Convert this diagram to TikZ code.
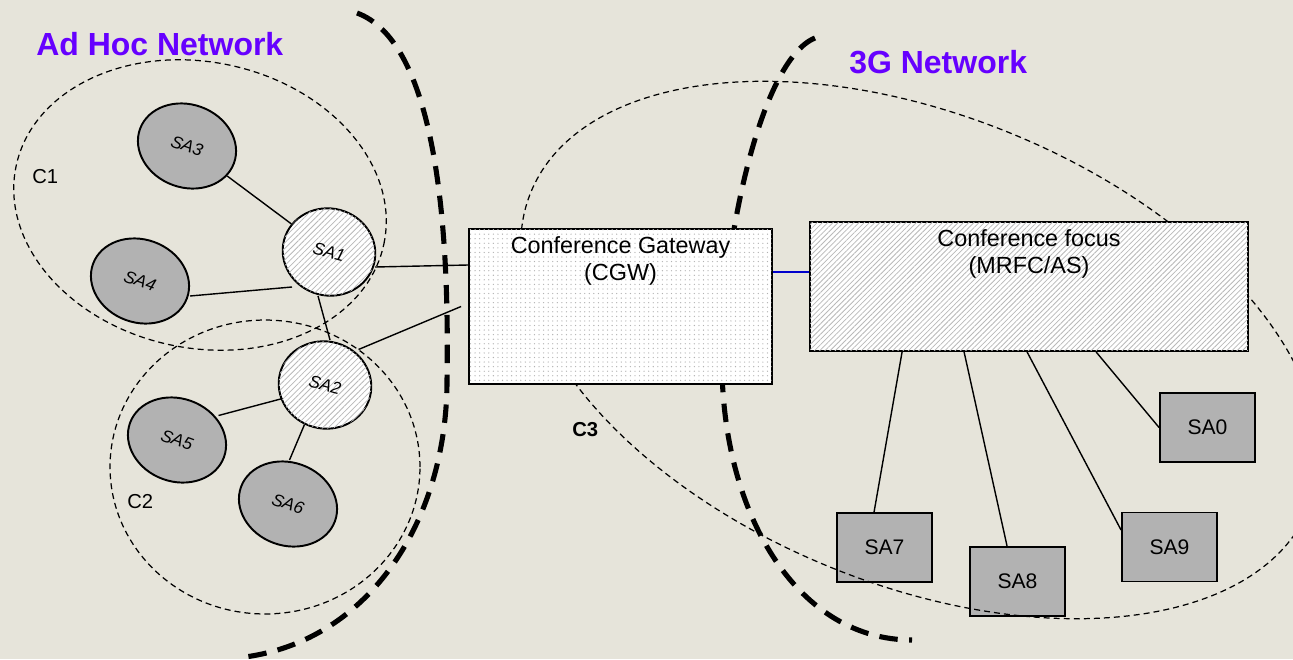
\documentclass[tikz,border=0pt]{standalone}
\usepackage{fontspec}
\setmainfont{Liberation Sans}
\usetikzlibrary{calc,patterns.meta,shapes.geometric}
\definecolor{paper}{RGB}{230,228,218}
\definecolor{netviolet}{RGB}{102,0,255}
\definecolor{agentgray}{RGB}{178,178,178}
\definecolor{linkblue}{RGB}{0,0,204}

\begin{document}
\begin{tikzpicture}[x=0.02cm,y=-0.02cm,
  cluster/.style={draw, line width=0.7pt, dash pattern=on 3.4pt off 2.3pt},
  boundary/.style={line width=2.9pt, dash pattern=on 10.5pt off 6.5pt},
  link/.style={line width=0.8pt},
  peer/.style={ellipse, draw, line width=1.1pt, fill=agentgray,
    minimum width=2.0cm, minimum height=1.66cm, inner sep=0pt,
    font=\fontsize{9.8}{11}\selectfont\itshape, rotate=-20},
  head/.style={ellipse, draw, line width=1.1pt, fill=white,
    postaction={pattern={Lines[angle=45,distance=2.3pt,line width=0.45pt]}, pattern color=gray!55},
    minimum width=1.86cm, minimum height=1.74cm, inner sep=0pt,
    font=\fontsize{9.8}{11}\selectfont\itshape, rotate=-15},
  agent/.style={rectangle, draw, line width=1.1pt, fill=agentgray,
    minimum width=1.9cm, minimum height=1.38cm, inner sep=0pt,
    font=\fontsize{12}{14}\selectfont},
  boxtext/.style={anchor=north, align=center, inner sep=0pt, yshift=-4.5pt,
    font=\fontsize{13.3}{15.5}\selectfont},
  netname/.style={anchor=base west, inner sep=0pt, text=netviolet,
    font=\fontsize{18.2}{20}\selectfont\bfseries},
  clname/.style={anchor=base west, inner sep=0pt, font=\fontsize{11.5}{13}\selectfont}
]
\useasboundingbox (0,0) rectangle (1293,659);
\fill[paper] (0,0) rectangle (1293,659);

% cluster outlines of the ad hoc part
\draw[cluster, rotate around={-12:(200,205)}] (200,205) ellipse [x radius=3.76cm, y radius=2.86cm];
\draw[cluster] (265,467) ellipse [x radius=3.1cm, y radius=2.94cm];

% network borders
\draw[boundary] (357,13) .. controls (430,40) and (450,200) .. (447,380)
                .. controls (447,520) and (370,640) .. (245,657);
\draw[boundary] (815,38) .. controls (760,60) and (720,250) .. (722,370)
                .. controls (725,520) and (800,640) .. (912,640);

% ad hoc agents
\node[peer] (SA3) at (187,146) {SA3};
\node[peer] (SA4) at (140,281) {SA4};
\node[peer] (SA5) at (177,440) {SA5};
\node[peer] (SA6) at (288,504) {SA6};
\node[head] (SA1) at (329,252) {SA1};
\node[head] (SA2) at (325,385) {SA2};

% 3G agents
\node[agent] (SA7) at (884.5,547.5) {SA7};
\node[agent] (SA8) at (1017.5,581.5) {SA8};
\node[agent] (SA9) at (1169.5,547) {SA9};
\node[agent] (SA0) at (1207.5,427.5) {SA0};

% cluster outline of the 3G part
\draw[cluster, rotate around={-22:(920,350)}] (920,350) ellipse [x radius=8.4cm, y radius=4.7cm];

% gateway and focus
\node[rectangle, draw, line width=1.1pt, fill=white,
  postaction={pattern={Dots[distance=2.6pt,radius=0.38pt]}, pattern color=gray!60},
  minimum width=6.06cm, minimum height=3.1cm, inner sep=0pt] (CGW) at (620.5,306.5) {};
\node[boxtext] at (CGW.north) {Conference Gateway\\(CGW)};
\node[rectangle, draw, line width=1.1pt, fill=white,
  postaction={pattern={Lines[angle=45,distance=2.1pt,line width=0.45pt]}, pattern color=gray!55},
  minimum width=8.76cm, minimum height=2.58cm, inner sep=0pt] (focus) at (1029,286.5) {};
\node[boxtext] at (focus.north) {Conference focus\\(MRFC/AS)};

% links inside the ad hoc network
\draw[link] (SA3) -- (SA1);
\draw[link] ($(SA4.center)+(50,15)$) -- ($(SA1.center)+(-37,35)$);
\draw[link] ($(SA1.center)+(-11,44)$) -- ($(SA2.center)+(5,-45)$);
\draw[link] ($(SA5.center)+(41.5,-24.5)$) -- ($(SA2.center)+(-42.5,13.5)$);
\draw[link] ($(SA6.center)+(1.5,-44)$) -- ($(SA2.center)+(-20.5,39.5)$);
\draw[link] ($(SA1.center)+(46,15)$) -- ($(CGW.west)+(0,-41.5)$);
\draw[link] ($(SA2.center)+(33.5,-35.5)$) -- ($(CGW.west)+(-7,0)$);

% gateway to focus
\draw[linkblue, line width=0.8pt] ($(CGW.east)+(0,-34.5)$) -- ($(focus.west)+(0,-14.5)$);

% focus to 3G agents
\draw[link] ($(focus.south west)+(93,0)$) -- ($(SA7.north west)+(38,0)$);
\draw[link] ($(focus.south west)+(155,0)$) -- ($(SA8.north west)+(38,0)$);
\draw[link] ($(focus.south west)+(218,0)$) -- ($(SA9.west)+(0,-17)$);
\draw[link] ($(focus.south west)+(287,0)$) -- (SA0.west);

% titles and cluster names
\node[netname] at (36,55) {Ad Hoc Network};
\node[netname] at (849,73) {3G Network};
\node[clname] at (32,183) {C1};
\node[clname] at (127,508) {C2};
\node[clname, font=\fontsize{11.5}{13}\selectfont\bfseries] at (572,436) {C3};
\end{tikzpicture}
\end{document}
